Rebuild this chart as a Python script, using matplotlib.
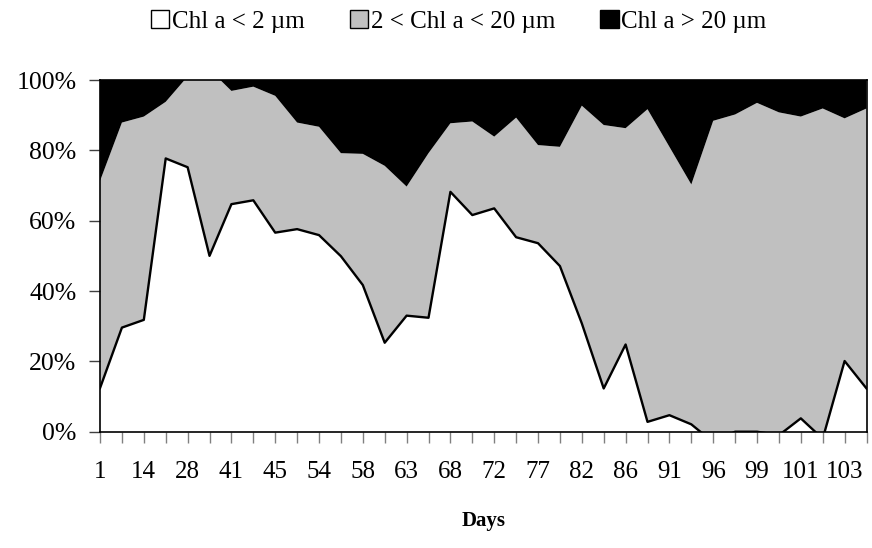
#%% chlorophyll a size fractions, 100% stacked area
import numpy as np
import matplotlib
matplotlib.use('Agg')
import matplotlib.pyplot as plt
from matplotlib.patches import Patch
from matplotlib.ticker import PercentFormatter

#%% data (% of total chl a)

# day labels shown on the axis (every other sampling date)
day_labels = ['1', '14', '28', '41', '45', '54', '58', '63', '68',
              '72', '77', '82', '86', '91', '96', '99', '101', '103']

# fraction < 2 um
small = [12.4, 29.6, 31.8, 77.7, 75.2, 50.0, 64.7, 65.8, 56.6, 57.6, 55.9, 49.9,
         41.7, 25.3, 33.0, 32.4, 68.2, 61.6, 63.5, 55.3, 53.6, 47.1, 30.8, 12.3,
         24.8, 2.8, 4.7, 2.1, -3.0, 0.0, 0.0, -1.0, 3.8, -2.0, 20.1, 12.3]

# fraction 2 - 20 um
mid = [58.9, 58.3, 57.8, 16.1, 25.8, 53.0, 32.2, 32.3, 38.9, 30.3, 30.8, 29.3,
       37.3, 50.3, 36.7, 46.8, 19.5, 26.6, 20.4, 34.0, 27.9, 33.9, 61.9, 74.9,
       61.5, 88.9, 76.3, 68.2, 91.4, 90.2, 93.5, 91.8, 85.8, 93.9, 69.0, 79.6]

# fraction > 20 um
large = [28.7, 12.1, 10.4, 6.2, 0.0, 0.0, 3.1, 1.9, 4.5, 12.1, 13.3, 20.8,
         21.0, 24.4, 30.3, 20.8, 12.3, 11.8, 16.1, 10.7, 18.5, 19.0, 7.3, 12.8,
         13.7, 8.3, 19.0, 29.7, 11.6, 9.8, 6.5, 9.2, 10.4, 8.1, 10.9, 8.1]

legend_labels = ['Chl a < 2 µm', '2 < Chl a < 20 µm', 'Chl a > 20 µm']
colors = ['white', '#c0c0c0', 'black']

#%% plot
plt.rcParams['font.family'] = ['Liberation Serif', 'DejaVu Serif']

x = np.arange(len(small))

fig = plt.figure(figsize=(8.72, 5.48), dpi=100)
ax = fig.add_axes([0.1147, 0.2122, 0.8790, 0.6418])

ax.stackplot(x, small, mid, large, colors=colors, linewidth=0)
ax.plot(x, small, color='black', lw=1.7)

ax.set_xlim(x[0], x[-1])
ax.set_ylim(0, 100)
ax.yaxis.set_major_formatter(PercentFormatter(100, decimals=0))
ax.set_yticks(np.arange(0, 101, 20))

# every tick, label every second one
ax.set_xticks(x)
ax.set_xticklabels([day_labels[i // 2] if i % 2 == 0 else '' for i in x])

ax.tick_params(axis='x', direction='out', length=8, width=1, color='#808080',
               pad=13, labelsize=18)
ax.tick_params(axis='y', direction='out', length=8, width=1, color='#404040',
               pad=9, labelsize=18.5)
for s in ax.spines.values():
    s.set_color('black')
    s.set_linewidth(1.2)

ax.set_xlabel('Days', fontsize=15, fontweight='bold', labelpad=20)

handles = [Patch(facecolor=c, edgecolor='black', lw=1) for c in colors]
fig.legend(handles, legend_labels, loc='upper center', bbox_to_anchor=(0.526, 1.023),
           ncol=3, frameon=False, fontsize=18, handlelength=0.75, handleheight=0.75,
           handletextpad=0.1, columnspacing=1.8)

plt.savefig('out.png', dpi=100)
